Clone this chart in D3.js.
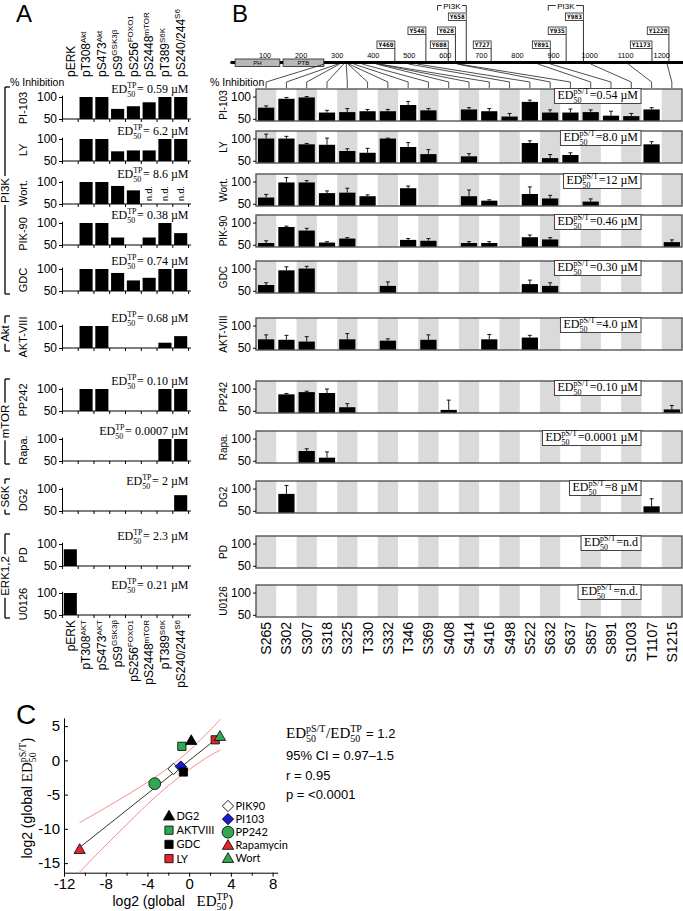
<!DOCTYPE html>
<html><head><meta charset="utf-8">
<script src="https://d3js.org/d3.v7.min.js"></script>
<style>
html,body{margin:0;padding:0;background:#fff;}
svg{display:block;}
text{white-space:pre;}
</style></head>
<body>
<svg id="chart" width="683" height="911"></svg>
<script>
// ================= DATA =================
const n = null;
const inhibitors = ["PI-103","LY","Wort.","PIK-90","GDC","AKT-VIII","PP242","Rapa.","DG2","PD","U0126"];
const targetGroups = ["PI3K","Akt","mTOR","S6K","ERK1,2"];
const targetFirst = [0,5,6,8,9];
const targetLast  = [4,5,7,8,10];

// Panel A readouts
const readoutsA = ["pERK","pT308","pS473","pS9","pS256","pS2448","pT389","pS240/244"];
const readoutSupTop = ["","Akt","Akt","GSK3β","FOXO1","mTOR","S6K","S6"];
const readoutSupBottom = ["","AKT","AKT","GSK3β","FOXO1","mTOR","S6K","S6"];

const aPI103 = [n,100,100,73,79,88,100,100];
const aLY    = [n,100,100,72,74,74,100,100];
const aWort  = [n,100,100,91,81,"n.d.","n.d.","n.d."];
const aPIK90 = [n,100,100,67,n,67,100,77];
const aGDC   = [n,100,100,91,74,80,100,100];
const aAKT   = [n,100,100,n,n,n,62,77];
const aPP242 = [n,100,100,n,n,n,100,100];
const aRapa  = [n,n,n,n,n,n,100,100];
const aDG2   = [n,n,n,n,n,n,n,86];
const aPD    = [88,n,n,n,n,n,n,n];
const aU0126 = [100,n,n,n,n,n,n,n];
const valuesA = [aPI103,aLY,aWort,aPIK90,aGDC,aAKT,aPP242,aRapa,aDG2,aPD,aU0126];
const ed50TP = ["0.59","6.2","8.6","0.38","0.74","0.68","0.10","0.0007","2","2.3","0.21"];

// Panel B sites
const sites = ["S265","S302","S307","S318","S325","T330","S332","T346","S369","S408","S414","S416","S498","S522","S632","S637","S857","S891","S1003","T1107","S1215"];
const bPI103 = [75,95,98,64,65,67,67,81,69,n,71,67,55,88,64,64,65,57,56,71,n];
const ePI103 = [4,3,2,5,8,4,4,8,4,n,4,6,7,4,6,8,5,10,6,4,n];
const bLY    = [100,100,87,86,72,68,100,81,65,n,60,n,n,90,56,63,n,n,n,87,n];
const eLY    = [10,5,2,15,5,10,1,10,10,n,6,n,n,5,8,5,n,n,n,6,n];
const bWort  = [64,98,98,74,75,67,n,85,n,n,67,57,n,72,62,n,55,n,n,n,n];
const eWort  = [7,11,4,5,10,3,n,5,n,n,14,2,n,16,7,n,6,n,n,n,n];
const bPIK90 = [54,90,82,55,64,n,n,61,59,n,54,54,n,67,62,n,n,n,n,n,56];
const ePIK90 = [5,2,5,2,2,n,n,3,5,n,3,3,n,5,4,n,n,n,n,n,5];
const bGDC   = [63,96,100,n,n,n,61,n,n,n,n,n,n,65,61,n,n,n,n,n,n];
const eGDC   = [5,8,5,n,n,n,9,n,n,n,n,n,n,9,7,n,n,n,n,n,n];
const bAKT   = [69,68,64,n,69,n,66,n,68,n,n,69,n,73,n,n,n,n,n,n,n];
const eAKT   = [10,10,11,n,13,n,4,n,11,n,n,11,n,5,n,n,n,n,n,n,n];
const bPP242 = [n,87,92,90,58,n,n,n,n,52,n,n,n,n,n,n,n,n,n,n,53];
const ePP242 = [n,2,2,9,8,n,n,n,n,22,n,n,n,n,n,n,n,n,n,n,9];
const bRapa  = [n,n,72,57,n,n,n,n,n,n,n,n,n,n,n,n,n,n,n,n,n];
const eRapa  = [n,n,5,13,n,n,n,n,n,n,n,n,n,n,n,n,n,n,n,n,n];
const bDG2   = [n,88,n,n,n,n,n,n,n,n,n,n,n,n,n,n,n,n,n,60,n];
const eDG2   = [n,19,n,n,n,n,n,n,n,n,n,n,n,n,n,n,n,n,n,17,n];
const bPD    = [n,n,n,n,n,n,n,n,n,n,n,n,n,n,n,n,n,n,n,n,n];
const bU0126 = [n,n,n,n,n,n,n,n,n,n,n,n,n,n,n,n,n,n,n,n,n];
const valuesB = [bPI103,bLY,bWort,bPIK90,bGDC,bAKT,bPP242,bRapa,bDG2,bPD,bU0126];
const errorsB = [ePI103,eLY,eWort,ePIK90,eGDC,eAKT,ePP242,eRapa,eDG2,bPD,bU0126];
const ed50pST = ["0.54 µM","8.0 µM","12 µM","0.46 µM","0.30 µM","4.0 µM","0.10 µM","0.0001 µM","8 µM","n.d","n.d."];

// IRS-1 domain diagram
const domainNames = ["PH","PTB"];
const domainStart = [17,150];
const domainEnd   = [141,263];
const residueTicks = [100,200,300,400,500,600,700,800,900,1000,1100,1200];
const tyrSites = ["Y460","Y546","Y608","Y628","Y658","Y727","Y891","Y935","Y983","Y1173","Y1220"];
const pi3kPairs = [["Y628","Y658"],["Y935","Y983"]];

// Panel C
const scNames = ["PIK90","PI103","GDC","PP242","Rapamycin","AKTVIII","DG2","LY","Wort"];
const scX = [-1.5,-0.8,-0.55,-3.3,-10.5,-0.7,0.2,2.5,2.95];
const scY = [-1.25,-0.9,-1.7,-3.4,-13.0,2.05,2.9,3.0,3.5];
const fitX = [-10.4,2.5];
const fitY = [-12.6,3.0];
const ciX  = [-10.5,-8,-6,-4,-2,0,2,3];
const ciUp = [-9.1,-6.9,-5.1,-3.2,-1.1,1.4,4.4,6.0];
const ciLo = [-16.3,-12.4,-9.4,-6.4,-3.7,-1.35,0.7,1.5];
const legendCol1 = ["DG2","AKTVIII","GDC","LY"];
const legendCol2 = ["PIK90","PI103","PP242","Rapamycin","Wort"];
const xTicksC = [-12,-8,-4,0,4,8];
const xMinorC = [-10,-6,-2,2,6];
const yTicksC = [5,0,-5,-10,-15];
const statsLines = ["95% CI = 0.97–1.5","r = 0.95","p = <0.0001"];
const ratioText = " = 1.2";

// ================= STYLE / LAYOUT =================
const svg = d3.select("#chart");
const SANS = '"Liberation Sans",Arial,sans-serif';
const SERIF = '"Liberation Serif","DejaVu Serif",serif';
const MONO = '"DejaVu Sans Mono",monospace';
const LEG = 'Lato,"Open Sans",sans-serif';
const rowBottom = [121,163,206,247,293,350,413,463,513,568,617];
const GREEN = "#2fa84f", RED = "#e3242b", BLUE = "#1a1ad0";
const markerStyle = {
  DG2:{shape:"tri",fill:"#000"}, AKTVIII:{shape:"sq",fill:GREEN}, GDC:{shape:"sq",fill:"#000"},
  LY:{shape:"sq",fill:RED}, PIK90:{shape:"dia",fill:"#fff"}, PI103:{shape:"dia",fill:BLUE},
  PP242:{shape:"circ",fill:GREEN}, Rapamycin:{shape:"tri",fill:RED}, Wort:{shape:"tri",fill:GREEN}
};

function txt(g,x,y,s,f,size,opt={}){
  const t=g.append("text").attr("x",x).attr("y",y).style("font-family",f).style("font-size",size+"px").attr("fill","#000").text(s);
  if(opt.anchor) t.attr("text-anchor",opt.anchor);
  if(opt.base) t.attr("dominant-baseline",opt.base);
  if(opt.weight) t.style("font-weight",opt.weight);
  if(opt.rot!==undefined) t.attr("transform",`rotate(${opt.rot},${x},${y})`);
  return t;
}
function rich(g,parts){
  let x=0;
  for(const p of parts){
    if(p.sup!==undefined){
      const a=g.append("text").attr("x",x).attr("y",-p.up).style("font-family",p.f).style("font-size",p.s+"px").text(p.sup);
      const b=g.append("text").attr("x",x).attr("y",p.dn).style("font-family",p.f).style("font-size",p.s+"px").text(p.sub);
      x+=Math.max(a.node().getComputedTextLength(),b.node().getComputedTextLength())+0.6;
    } else {
      const a=g.append("text").attr("x",x).attr("y",0).style("font-family",p.f).style("font-size",p.s+"px").text(p.t);
      x+=a.node().getComputedTextLength();
    }
  }
  return x;
}
function marker(g,x,y,name){
  const st=markerStyle[name];
  let p;
  if(st.shape==="tri") p=g.append("path").attr("d",d3.symbol(d3.symbolTriangle,55)()).attr("transform",`translate(${x},${y+0.8})`);
  else if(st.shape==="sq") p=g.append("path").attr("d",d3.symbol(d3.symbolSquare,68)()).attr("transform",`translate(${x},${y})`);
  else if(st.shape==="dia") p=g.append("path").attr("d",d3.symbol(d3.symbolSquare,64)()).attr("transform",`translate(${x},${y}) rotate(45)`);
  else p=g.append("path").attr("d",d3.symbol(d3.symbolCircle,110)()).attr("transform",`translate(${x},${y})`);
  p.attr("fill",st.fill).attr("stroke","#000").attr("stroke-width",0.8);
}

// ================= PANEL A =================
const gA = svg.append("g");
txt(gA,16,22,"A",SANS,24);
const xA = d3.scaleBand().domain(readoutsA).range([62.5,188.5]).paddingInner(0.17).paddingOuter(0.08);
const bwA = xA.bandwidth(), stepA = xA.step();
const firstBoundary = xA(readoutsA[0]) - stepA*0.17/2;

readoutsA.forEach((r,i)=>{
  const cx = xA(r)+bwA/2;
  const t = gA.append("text").attr("transform",`translate(${cx+4.3},77) rotate(-90)`).style("font-family",SANS).style("font-size","12px");
  t.append("tspan").text(r);
  if(readoutSupTop[i]) t.append("tspan").attr("dy",-4.5).style("font-size","8px").text(readoutSupTop[i]);
  const b = gA.append("text").attr("transform",`translate(${cx+4.3},620) rotate(-90)`).attr("text-anchor","end").style("font-family",SANS).style("font-size","12px");
  b.append("tspan").text(r);
  if(readoutSupBottom[i]) b.append("tspan").attr("dy",-4.5).style("font-size","8px").text(readoutSupBottom[i]);
});
txt(gA,10,86,"% Inhibition",SANS,10.5);

inhibitors.forEach((name,i)=>{
  const base = rowBottom[i]-2;
  const y = d3.scaleLinear().domain([50,104]).range([base, base-22*54/50]);
  const g = gA.append("g");
  valuesA[i].forEach((v,j)=>{
    if(typeof v==="number"){
      g.append("rect").attr("x",xA(readoutsA[j])).attr("width",bwA).attr("y",y(v)).attr("height",base-y(v)).attr("fill","#000");
    } else if(v==="n.d."){
      g.append("text").attr("transform",`translate(${xA(readoutsA[j])+bwA/2+3.2},${base-3}) rotate(-90)`).style("font-family",SANS).style("font-size","9px").text("n.d.");
    }
  });
  g.append("g").attr("transform","translate(62,0)")
    .call(d3.axisLeft(y).tickValues([50,100]).tickSize(3).tickSizeOuter(0).tickPadding(2))
    .call(s=>{s.selectAll("text").style("font-family",SANS).style("font-size","12px").attr("fill","#000");
              s.selectAll("line,path").attr("stroke","#000");});
  g.append("line").attr("x1",62).attr("x2",191).attr("y1",base).attr("y2",base).attr("stroke","#000");
  for(let k=0;k<=readoutsA.length;k++){
    const bx = firstBoundary + k*stepA;
    g.append("line").attr("x1",bx).attr("x2",bx).attr("y1",base).attr("y2",base+3).attr("stroke","#000");
  }
  txt(g,23,base-11,name,SANS,11,{anchor:"middle",base:"central",rot:-90});
  const lg = g.append("g");
  const w = rich(lg,[{t:"ED",f:SERIF,s:12},{sup:"TP",sub:"50",f:SERIF,s:8,up:5,dn:3.5},{t:"= "+ed50TP[i]+" ",f:SERIF,s:12},{t:"µM",f:SERIF,s:12}]);
  lg.attr("transform",`translate(${188.5-w},${base-26})`);
});

targetGroups.forEach((tg,k)=>{
  const top = rowBottom[targetFirst[k]]-34, bot = rowBottom[targetLast[k]]+1;
  const mid = (top+bot)/2;
  const t = txt(gA,5,mid,tg,SANS,11.5,{anchor:"middle",base:"central",rot:-90});
  const L = t.node().getComputedTextLength();
  const seg=(x1,y1,x2,y2)=>gA.append("line").attr("x1",x1).attr("y1",y1).attr("x2",x2).attr("y2",y2).attr("stroke","#000").attr("stroke-width",1.3);
  seg(5,top,5,mid-L/2-2); seg(5,mid+L/2+2,5,bot); seg(5,top,10,top); seg(5,bot,10,bot);
});

// ================= PANEL B =================
const gB = svg.append("g");
txt(gB,232,22,"B",SANS,24);
const xr = d3.scaleLinear().domain([0,1200]).range([229,661.7]);
gB.append("line").attr("x1",xr(0)+3).attr("x2",683).attr("y1",62.5).attr("y2",62.5).attr("stroke","#000").attr("stroke-width",3.2);
gB.append("circle").attr("cx",xr(0)+3).attr("cy",62.5).attr("r",1.8).attr("fill","#000");
domainNames.forEach((d,i)=>{
  gB.append("rect").attr("x",xr(domainStart[i])).attr("width",xr(domainEnd[i])-xr(domainStart[i])).attr("y",59).attr("height",7.5)
    .attr("fill","#b8b8b8").attr("stroke","#222").attr("stroke-width",0.8);
  txt(gB,(xr(domainStart[i])+xr(domainEnd[i]))/2,65,d,SANS,6,{anchor:"middle"});
});
residueTicks.forEach(r=>txt(gB,xr(r),57.5,String(r),SANS,7.3,{anchor:"middle"}));
const tierTop = {Y460:41,Y546:27,Y608:41,Y628:27,Y658:13,Y727:41,Y891:41,Y935:27,Y983:13,Y1173:41,Y1220:27};
const boxW = {};
tyrSites.forEach(s=>{
  const res = +s.slice(1), x = xr(res), top = tierTop[s];
  const t = txt(gB,0,top+6,s,MONO,6.2,{weight:"bold"});
  const w = t.node().getComputedTextLength()+3;
  boxW[s]=w;
  t.attr("x",x-w+1.5);
  gB.insert("rect","text:last-child").attr("x",x-w).attr("y",top).attr("width",w).attr("height",7.5).attr("fill","#fff").attr("stroke","#222").attr("stroke-width",0.8);
  t.raise();
  gB.append("line").attr("x1",x).attr("x2",x).attr("y1",top+7.5).attr("y2",61).attr("stroke","#000").attr("stroke-width",0.8);
});
pi3kPairs.forEach(([a,b])=>{
  const left = xr(+a.slice(1))-boxW[a], right = xr(+b.slice(1)), mid=(left+right)/2;
  const t = txt(gB,mid,8.5,"PI3K",SANS,8,{anchor:"middle"});
  const L = t.node().getComputedTextLength();
  const seg=(x1,y1,x2,y2)=>gB.append("line").attr("x1",x1).attr("y1",y1).attr("x2",x2).attr("y2",y2).attr("stroke","#000").attr("stroke-width",0.8);
  seg(left,5.5,mid-L/2-1.5,5.5); seg(mid+L/2+1.5,5.5,right,5.5); seg(left,5.5,left,10.5); seg(right,5.5,right,12.5);
});

const xBs = d3.scaleBand().domain(sites).range([256,682]).padding(0);
const xB  = d3.scaleBand().domain(sites).range([256,682]).paddingInner(0.2).paddingOuter(0.1);
sites.forEach(s=>{
  const res=+s.slice(1), cx=xBs(s)+xBs.bandwidth()/2;
  gB.append("path").attr("d",`M${xr(res)},64 L${cx},82 L${cx},88`).attr("fill","none").attr("stroke","#222").attr("stroke-width",0.8);
});
txt(gB,210,86,"% Inhibition",SANS,10.5);

inhibitors.forEach((name,i)=>{
  const bot=rowBottom[i], top=bot-32;
  const y=d3.scaleLinear().domain([45,117]).range([bot,top]);
  const g=gB.append("g");
  sites.forEach((s,j)=>{ if(j%2===0) g.append("rect").attr("x",xBs(s)).attr("y",top).attr("width",xBs.bandwidth()).attr("height",32).attr("fill","#dadada"); });
  valuesB[i].forEach((v,j)=>{
    if(v===null) return;
    const s=sites[j], x=xB(s), cx=x+xB.bandwidth()/2, e=errorsB[i][j]||0;
    g.append("line").attr("x1",cx).attr("x2",cx).attr("y1",y(v)).attr("y2",y(v+e)).attr("stroke","#000").attr("stroke-width",0.9);
    g.append("line").attr("x1",cx-2).attr("x2",cx+2).attr("y1",y(v+e)).attr("y2",y(v+e)).attr("stroke","#000").attr("stroke-width",0.9);
    g.append("rect").attr("x",x).attr("width",xB.bandwidth()).attr("y",y(v)).attr("height",bot-y(v)).attr("fill","#000");
  });
  g.append("rect").attr("x",256).attr("y",top).attr("width",426).attr("height",32).attr("fill","none").attr("stroke","#555").attr("stroke-width",1.4);
  g.append("g").attr("transform","translate(256,0)")
    .call(d3.axisLeft(y).tickValues([50,100]).tickSize(3).tickSizeOuter(0).tickPadding(2))
    .call(s=>{s.select(".domain").remove(); s.selectAll("text").style("font-family",SANS).style("font-size","12px").attr("fill","#000"); s.selectAll("line").attr("stroke","#000");});
  txt(g,223,top+16,name,SANS,10,{anchor:"middle",base:"central",rot:-90});
  const lg=g.append("g");
  const w=rich(lg,[{t:"ED",f:SERIF,s:12},{sup:"pS/T",sub:"50",f:SERIF,s:8,up:5,dn:3.5},{t:"="+ed50pST[i],f:SERIF,s:12}]);
  lg.insert("rect",":first-child").attr("x",-3).attr("y",-10.5).attr("width",w+6).attr("height",15).attr("fill","#fff").attr("stroke","#444").attr("stroke-width",1);
  lg.attr("transform",`translate(${641-3-w},${top+10})`);
});
sites.forEach(s=>{
  const cx=xBs(s)+xBs.bandwidth()/2;
  gB.append("text").attr("transform",`translate(${cx+5},622) rotate(-90)`).attr("text-anchor","end").style("font-family",SANS).style("font-size","14px").text(s);
});

// ================= PANEL C =================
const gC = svg.append("g");
txt(gC,16,724,"C",SANS,28);
const xC = d3.scaleLinear().domain([-12,8.5]).range([64,277.8]);
const yC = d3.scaleLinear().domain([-16.4,6.2]).range([872.7,717.9]);
gC.append("g").attr("transform","translate(0,872.7)")
  .call(d3.axisBottom(xC).tickValues(xTicksC).tickFormat(d=>String(d)).tickSize(4).tickSizeOuter(0).tickPadding(2))
  .call(s=>{s.selectAll("text").style("font-family",SANS).style("font-size","15px").attr("fill","#000"); s.selectAll("line,path").attr("stroke","#000");});
gC.append("g").attr("transform","translate(0,872.7)")
  .call(d3.axisBottom(xC).tickValues(xMinorC).tickFormat("").tickSize(3).tickSizeOuter(0))
  .call(s=>{s.select(".domain").remove(); s.selectAll("line").attr("stroke","#000");});
gC.append("g").attr("transform","translate(64,0)")
  .call(d3.axisLeft(yC).tickValues(yTicksC).tickFormat(d=>String(d)).tickSize(-4).tickSizeOuter(0).tickPadding(4))
  .call(s=>{s.selectAll("text").style("font-family",SANS).style("font-size","15px").attr("fill","#000"); s.selectAll("line,path").attr("stroke","#000");});

const ciLine = d3.line().x((d,i)=>xC(ciX[i])).curve(d3.curveCatmullRom);
gC.append("path").attr("d",ciLine.y(d=>yC(d))(ciUp)).attr("fill","none").attr("stroke","#e8605a").attr("stroke-width",0.7);
gC.append("path").attr("d",ciLine.y(d=>yC(d))(ciLo)).attr("fill","none").attr("stroke","#e8605a").attr("stroke-width",0.7);
gC.append("line").attr("x1",xC(fitX[0])).attr("y1",yC(fitY[0])).attr("x2",xC(fitX[1])).attr("y2",yC(fitY[1])).attr("stroke","#000").attr("stroke-width",0.8);
scNames.forEach((nm,i)=>marker(gC,xC(scX[i]),yC(scY[i]),nm));

legendCol1.forEach((nm,i)=>{ const y=816+i*14.2; marker(gC,169,y,nm); txt(gC,176.5,y+4,nm,LEG,11); });
legendCol2.forEach((nm,i)=>{ const y=806+i*13.1; marker(gC,228,y,nm); txt(gC,235.5,y+4,nm,LEG,11); });

const sg = gC.append("g").attr("transform","translate(286,738)");
rich(sg,[{t:"ED",f:SERIF,s:15},{sup:"pS/T",sub:"50",f:SERIF,s:10,up:6,dn:4},{t:"/ED",f:SERIF,s:15},{sup:"TP",sub:"50",f:SERIF,s:10,up:6,dn:4},{t:ratioText,f:SANS,s:13}]);
statsLines.forEach((s,i)=>txt(gC,286,760+i*19.5,s,SANS,13));

// axis labels
const yl = gC.append("g").attr("transform","translate(32,798) rotate(-90)");
const yli = yl.append("g");
const wy = rich(yli,[{t:"log2 (global ",f:SANS,s:14},{t:"ED",f:SERIF,s:15},{sup:"pS/T",sub:"50",f:SERIF,s:10,up:6.5,dn:4},{t:")",f:SANS,s:14}]);
yli.attr("transform",`translate(${-wy/2},0)`);
const xl = gC.append("g").attr("transform","translate(173,906)");
const xli = xl.append("g");
const wx = rich(xli,[{t:"log2 (global   ",f:SANS,s:14},{t:"ED",f:SERIF,s:15},{sup:"TP",sub:"50",f:SERIF,s:10,up:6,dn:3.5},{t:")",f:SANS,s:14}]);
xli.attr("transform",`translate(${-wx/2},0)`);
</script>
</body></html>
